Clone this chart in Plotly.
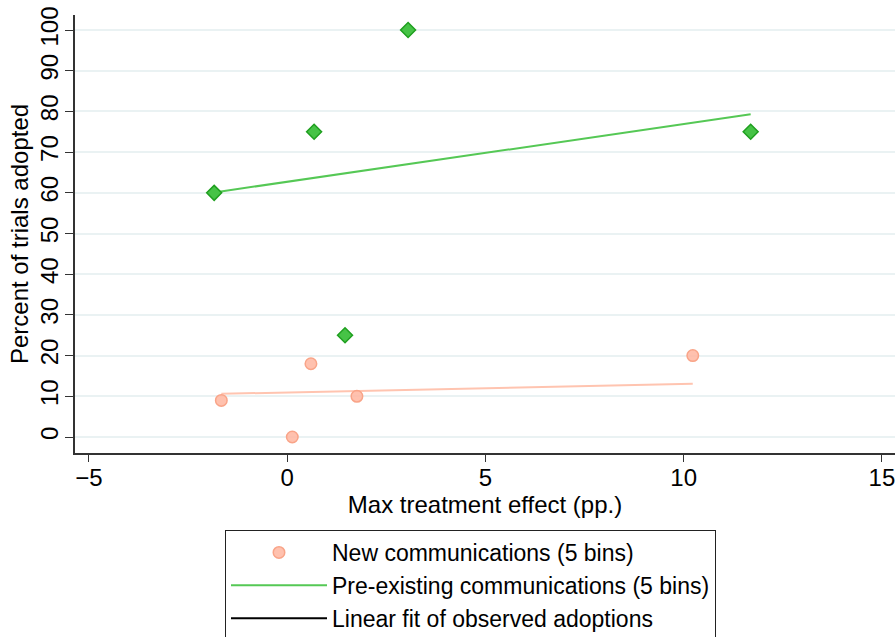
import plotly.graph_objects as go

# Data
new_x = [-1.66, 0.60, 0.13, 1.76, 10.23]
new_y = [9, 18, 0, 10, 20]
pre_x = [-1.84, 0.68, 3.05, 1.46, 11.69]
pre_y = [60, 75, 100, 25, 75]
new_fit_x = [-1.66, 10.23]
new_fit_y = [10.6, 13.1]
pre_fit_x = [-1.84, 11.69]
pre_fit_y = [60.1, 79.3]

x_ticks = [-5, 0, 5, 10, 15]
y_ticks = [0, 10, 20, 30, 40, 50, 60, 70, 80, 90, 100]

NARROW = "Liberation Sans Narrow, Arial Narrow, Liberation Sans, sans-serif"
FONT = "Liberation Sans, Arial, sans-serif"

fig = go.Figure()
fig.add_trace(go.Scatter(x=new_fit_x, y=new_fit_y, mode="lines",
                         line=dict(color="#ffc4b0", width=2), showlegend=False, hoverinfo="skip"))
fig.add_trace(go.Scatter(x=pre_fit_x, y=pre_fit_y, mode="lines",
                         line=dict(color="#55c855", width=2), showlegend=False, hoverinfo="skip"))
fig.add_trace(go.Scatter(x=new_x, y=new_y, mode="markers", name="New communications (5 bins)",
                         marker=dict(symbol="circle", size=11.5, color="rgba(255,182,160,0.85)",
                                     line=dict(color="#f9a488", width=1.5))))
fig.add_trace(go.Scatter(x=[None], y=[None], mode="lines", name="Pre-existing communications (5 bins)",
                         line=dict(color="#55c855", width=2)))
fig.add_trace(go.Scatter(x=pre_x, y=pre_y, mode="markers", showlegend=False,
                         marker=dict(symbol="diamond", size=11.5, color="#46c346",
                                     line=dict(color="#1f9f1f", width=1.5))))
fig.add_trace(go.Scatter(x=[None], y=[None], mode="lines", name="Linear fit of observed adoptions",
                         line=dict(color="black", width=2)))

fig.update_layout(
    width=896, height=637,
    margin=dict(l=75, r=1, t=15, b=184, autoexpand=False),
    paper_bgcolor="white", plot_bgcolor="white",
    font=dict(family=FONT, size=20, color="black"),
    legend=dict(x=(225 - 75) / 820, y=(453 - 530) / 438, xanchor="left", yanchor="top",
                bordercolor="#222", borderwidth=1, bgcolor="white",
                font=dict(family=FONT, size=23), itemwidth=96, tracegroupgap=0),
    showlegend=True,
)
fig.update_xaxes(range=[-5.35, 15.33], tickvals=x_ticks, ticks="outside", ticklen=7,
                 tickcolor="#333", showline=True, linecolor="#333", linewidth=1.5,
                 showgrid=False, zeroline=False, automargin=False, ticklabelstandoff=-5,
                 title=dict(text="Max treatment effect (pp.)", standoff=0,
                            font=dict(family=NARROW, size=24)),
                 tickfont=dict(family=NARROW, size=24))
fig.update_yaxes(range=[-3.93, 103.7], tickvals=y_ticks, ticks="outside", ticklen=8,
                 tickcolor="#333", showline=True, linecolor="#333", linewidth=1.5,
                 showgrid=True, gridcolor="#eaf2f3", gridwidth=1.5, zeroline=False,
                 tickangle=-90, automargin=False, ticklabelstandoff=-2,
                 title=dict(text="Percent of trials adopted", standoff=0,
                            font=dict(family=NARROW, size=24)),
                 tickfont=dict(family=NARROW, size=24))

fig.write_html("out.html", config={"displayModeBar": False},
               post_script="document.body.style.margin='0';document.body.style.overflow='hidden';")
